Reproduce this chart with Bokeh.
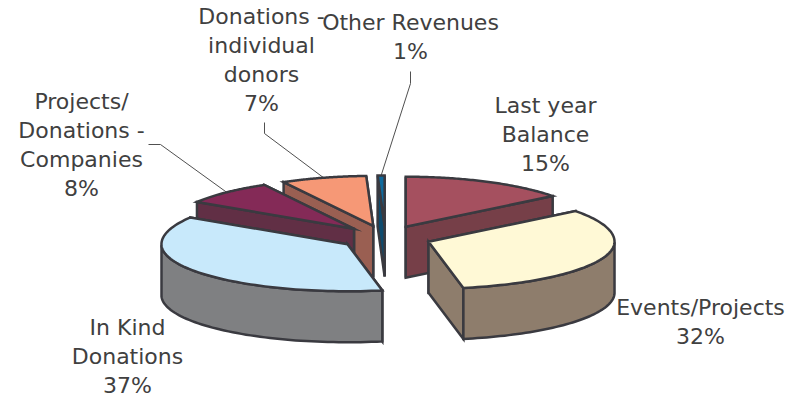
import numpy as np
from bokeh.plotting import figure
from bokeh.models import Range1d, ColumnDataSource
from bokeh.core.properties import value
from bokeh.embed import file_html
from bokeh.resources import INLINE

# Data
categories = ["Last year Balance", "Events/Projects", "In Kind Donations",
              "Projects/ Donations - Companies", "Donations - individual donors", "Other Revenues"]
shares = [14.5, 32.5, 37.0, 8.0, 7.4, 0.6]
top_colors = ["#A5505F", "#FFF9D6", "#C8E9FB", "#842A57", "#F69876", "#0F6A9D"]
side_colors = ["#763F48", "#8E7D6C", "#7F8082", "#612F45", "#9A5F52", "#0E4B6E"]
label_lines = [
    ["Last year", "Balance", "15%"],
    ["Events/Projects", "32%"],
    ["In Kind", "Donations", "37%"],
    ["Projects/", "Donations -", "Companies", "8%"],
    ["Donations -", "individual", "donors", "7%"],
    ["Other Revenues", "1%"],
]

# Layout (screen-like coordinates)
W, H = 790, 400
CX, CY = 385, 237
RX, RY_BACK, RY_FRONT = 186, 50, 47
DEPTH = 51
EXPLODE_X, EXPLODE_Y = 46, 12
OUTLINE = "#3A3A40"
TEXT = "#404040"
label_pos = [(545, 105), (700, 307), (127, 327), (81, 101), (261, 16), (410, 22)]
LINE_H = 29
leaders = {3: [(148, 144), (160, 144)], 4: [(264, 122), (264, 133)], 5: [(410, 71), (410, 83)]}

edges = np.radians(np.concatenate([[0], np.cumsum(shares)]) * 3.6)


def rim(a, ax, ay):
    c = np.cos(a)
    ry = np.where(c > 0, RY_BACK, RY_FRONT)
    return ax + RX * np.sin(a), ay - ry * c


p = figure(width=W, height=H, x_range=Range1d(0, W), y_range=Range1d(H, 0),
           output_backend="svg", toolbar_location=None, min_border=0)
p.axis.visible = False
p.grid.visible = False
p.outline_line_color = None
p.background_fill_color = "white"

xs, ys, fills = [], [], []
leader_x, leader_y = [], []
order = [5, 4, 3, 0, 1, 2]
for i in order:
    a0, a1 = edges[i], edges[i + 1]
    mid = (a0 + a1) / 2
    ax = CX + EXPLODE_X * np.sin(mid)
    ay = CY - EXPLODE_Y * np.cos(mid)
    arc = np.linspace(a0, a1, 80)
    rx_, ry_ = rim(arc, ax, ay)
    # radial cut faces: the one farther back first
    faces = sorted([0, -1], key=lambda k: ry_[k])
    for k in faces:
        xs.append([ax, rx_[k], rx_[k], ax])
        ys.append([ay, ry_[k], ry_[k] + DEPTH, ay + DEPTH])
        fills.append(side_colors[i])
    # outer wall: front half of the rim only
    front = np.cos(arc) <= 0
    if front.sum() > 1:
        fx, fy = rx_[front], ry_[front]
        xs.append(list(fx) + list(fx[::-1]))
        ys.append(list(fy) + list((fy + DEPTH)[::-1]))
        fills.append(side_colors[i])
    # top
    xs.append([ax] + list(rx_))
    ys.append([ay] + list(ry_))
    fills.append(top_colors[i])
    # leader
    if i in leaders:
        ex, ey = rim(np.array([mid]), ax, ay)
        pts = leaders[i] + [(ex[0], ey[0])]
        leader_x.append([q[0] for q in pts])
        leader_y.append([q[1] for q in pts])

p.multi_line(leader_x, leader_y, line_color="#505050", line_width=1)
p.patches("xs", "ys", source=ColumnDataSource(dict(xs=xs, ys=ys, fill=fills)),
          fill_color="fill", line_color=OUTLINE, line_width=2.5, line_join="miter")

tx, ty, tt = [], [], []
for lines, (lx, ly) in zip(label_lines, label_pos):
    for j, t in enumerate(lines):
        tx.append(lx)
        ty.append(ly + j * LINE_H)
        tt.append(t)
p.text(tx, ty, text=tt, text_font=value("DejaVu Sans"), text_font_size="22px",
       text_color=TEXT, text_align="center", text_baseline="middle")

open("out.html", "w").write(file_html(p, INLINE))
